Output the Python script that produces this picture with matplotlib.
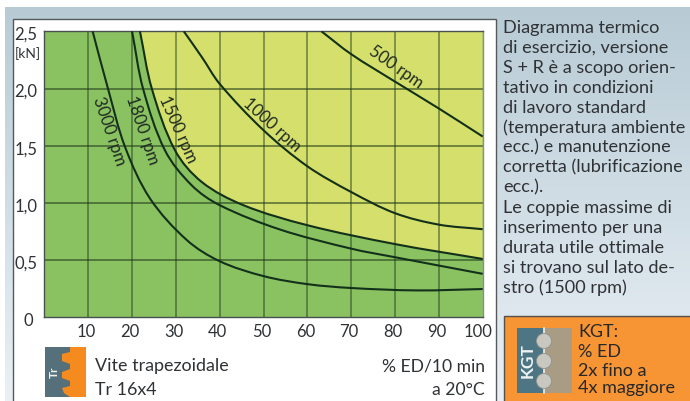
import numpy as np
import matplotlib
matplotlib.use('Agg')
import matplotlib.pyplot as plt
from matplotlib.patches import Rectangle, Polygon, Circle, PathPatch
from matplotlib.path import Path
from matplotlib.transforms import ScaledTranslation

W, H = 690, 401
plt.rcParams['font.family'] = ['Lato', 'DejaVu Sans']

# values: % ED on x, kN on y
x_500 = [63.2, 70, 80, 90, 100]
y_500 = [2.5, 2.30, 2.06, 1.825, 1.58]
x_1000 = [31.8, 36, 40, 50, 60, 70, 80, 90, 100]
y_1000 = [2.5, 2.27, 2.04, 1.635, 1.32, 1.095, 0.91, 0.81, 0.77]
x_1500 = [21.8, 24.5, 29.8, 35.9, 45.4, 60, 80, 100]
y_1500 = [2.5, 2.0, 1.46, 1.183, 0.98, 0.805, 0.64, 0.51]
x_1800 = [20, 22.5, 27.5, 33.6, 40, 53.7, 70, 80, 100]
y_1800 = [2.5, 2.0, 1.46, 1.154, 0.98, 0.768, 0.60, 0.525, 0.38]
x_3000 = [11, 14.5, 18.4, 24.1, 32.5, 40, 50, 60, 70, 85, 100]
y_3000 = [2.5, 2.0, 1.489, 1.038, 0.675, 0.49, 0.36, 0.29, 0.256, 0.235, 0.247]

curve_labels = ['500 rpm', '1000 rpm', '1500 rpm', '1800 rpm', '3000 rpm']
label_x = [80.3, 51.9, 30.5, 22.3, 14.7]
label_y = [2.187, 1.678, 1.643, 1.635, 1.625]
label_rot = [-35, -42, -66, -71, -71]

x_ticks = [10, 20, 30, 40, 50, 60, 70, 80, 90, 100]
y_ticks = [0, 0.5, 1.0, 1.5, 2.0, 2.5]
y_tick_labels = ['0', '0,5', '1,0', '1,5', '2,0', '2,5']

side_text = ['Diagramma termico', 'di esercizio, versione', 'S + R è a scopo orien-',
             'tativo in condizioni', 'di lavoro standard', '(temperatura ambiente',
             'ecc.) e manutenzione', 'corretta (lubrificazione', 'ecc.).',
             'Le coppie massime di', 'inserimento per una', 'durata utile ottimale',
             'si trovano sul lato de-', 'stro (1500 rpm)']
kgt_text = ['KGT:', '% ED', '2x fino a', '4x maggiore']

GREEN = '#8ac262'
YELLOW = '#d5df6b'
ORANGE = '#f79433'
TEXT = '#2f3235'
SX, SY = 4.383, 114.4  # px per data unit, keeps the curve tangents round on screen


def smooth_path(xs, ys):
    # bezier through the read points, handle length follows the segment length
    p = np.column_stack([np.array(xs) * SX, np.array(ys) * SY])
    tang = np.zeros_like(p)
    tang[1:-1] = p[2:] - p[:-2]
    tang[0] = p[1] - p[0]
    tang[-1] = p[-1] - p[-2]
    tang /= np.linalg.norm(tang, axis=1)[:, None]
    verts = [p[0]]
    codes = [Path.MOVETO]
    for i in range(len(p) - 1):
        d = np.linalg.norm(p[i + 1] - p[i]) / 3
        verts += [p[i] + tang[i] * d, p[i + 1] - tang[i + 1] * d, p[i + 1]]
        codes += [Path.CURVE4] * 3
    return Path(np.array(verts) / [SX, SY], codes)


fig = plt.figure(figsize=(W / 100, H / 100), dpi=100)

# page layer in pixel coordinates
bg = fig.add_axes([0, 0, 1, 1])
bg.axis('off')

grad = np.linspace(0, 1, 256)[:, None, None]
top = np.array([0xb8, 0xcb, 0xd5]) / 255
bottom = np.array([0xea, 0xf0, 0xf6]) / 255
bg.imshow(top + (bottom - top) * grad, extent=[5, W, H, 7], aspect='auto', zorder=0)
bg.set_xlim(0, W)
bg.set_ylim(H, 0)
bg.add_patch(Rectangle((12.5, 19), 483.2, 390, fc='white', ec='#55595c', lw=1, zorder=1))

for i, line in enumerate(side_text):
    bg.text(503, 32.7 + i * 20.02, line, fontsize=13.1, color=TEXT, va='baseline', ha='left')

# KGT box
bg.add_patch(Rectangle((504, 316), 190, 90, fc=ORANGE, ec='#55504a', lw=1, zorder=1))
bg.add_patch(Rectangle((517, 328), 27, 65, fc='#4d7583', ec='none', zorder=2))
bg.add_patch(Rectangle((544, 328), 28, 65, fc='#a99c85', ec='none', zorder=2))
bg.plot([544, 544], [328, 393], color='#f0f0ea', lw=1.2, zorder=3)
for yc in [341, 361, 381]:
    bg.add_patch(Circle((544, yc), 7.5, fc='#c9c8c0', ec='#8f9490', lw=0.6, zorder=4))
bg.text(528, 361, 'KGT', color='#eef2f2', fontsize=12.5, fontweight='bold', rotation=90,
        ha='center', va='center', zorder=5)
for line, base in zip(kgt_text, [337, 357, 376, 393.5]):
    bg.text(578, base, line, fontsize=13, color='#26282a', va='baseline', ha='left')

# Tr icon
bg.add_patch(Rectangle((45, 347), 41, 50, fc='#f58a1f', ec='none', zorder=2))
thread = Polygon([(45, 347), (70, 347), (70, 352), (62, 354), (62, 361), (70, 364), (70, 369),
                  (62, 372), (62, 378), (70, 381), (70, 386), (62, 388), (64, 393), (70, 397),
                  (45, 397)], fc='#55707a', ec='none', zorder=3)
bg.add_patch(thread)
bg.text(54, 372, 'Tr', color='#eef2f2', fontsize=8.5, fontweight='bold', rotation=90,
        ha='center', va='center', zorder=4)

bg.text(95, 371.5, 'Vite trapezoidale', fontsize=12.9, color=TEXT, va='baseline')
bg.text(95, 395, 'Tr 16x4', fontsize=12.9, color=TEXT, va='baseline')
bg.text(485, 371.5, '% ED/10 min', fontsize=12.6, color=TEXT, va='baseline', ha='right')
bg.text(485, 395, 'a 20°C', fontsize=12.6, color=TEXT, va='baseline', ha='right')
bg.text(41, 58, '[kN]', fontsize=10, color=TEXT, va='baseline', ha='right')

# chart
ax = fig.add_axes([44.4 / W, 1 - 317.3 / H, 438.3 / W, 286 / H])
ax.set_xlim(0, 100)
ax.set_ylim(0, 2.5)
ax.set_facecolor(GREEN)

# yellow zone sits above the 1500 rpm line
edge = smooth_path(x_1500, y_1500)
ev = np.vstack([edge.vertices, [[x_1500[-1], 2.5], [x_1500[0], 2.5], [x_1500[0], 2.5]]])
ec = list(edge.codes) + [Path.LINETO, Path.LINETO, Path.CLOSEPOLY]
ax.add_patch(PathPatch(Path(ev, ec), fc=YELLOW, ec='none', zorder=1))

for x, y in [(x_500, y_500), (x_1000, y_1000), (x_1500, y_1500), (x_1800, y_1800), (x_3000, y_3000)]:
    ax.add_patch(PathPatch(smooth_path(x, y), fc='none', ec='#13301a', lw=1.5, zorder=3,
                           capstyle='butt'))

for xg in x_ticks[:-1]:
    ax.axvline(xg, color='#1f3a1a', alpha=0.5, lw=1.3, zorder=2)
for yg in y_ticks[1:-1]:
    ax.axhline(yg, color='#1f3a1a', alpha=0.6, lw=1.3, zorder=2)

for lab, lx, ly, rot in zip(curve_labels, label_x, label_y, label_rot):
    ax.text(lx, ly, lab, rotation=rot, rotation_mode='anchor', ha='center', va='center',
            fontsize=12, color='#1f2a22', zorder=4)

ax.set_xticks(x_ticks)
ax.set_xticklabels([str(v) for v in x_ticks])
ax.set_yticks(y_ticks)
ax.set_yticklabels(y_tick_labels)
ax.tick_params(axis='both', length=0, labelsize=12, labelcolor=TEXT)
ax.tick_params(axis='x', pad=5)
ax.tick_params(axis='y', pad=5)
for t, val in zip(ax.get_xticklabels(), x_ticks):
    dx = -5 if val == 100 else -2
    t.set_transform(t.get_transform() + ScaledTranslation(dx / 100, 0, fig.dpi_scale_trans))
for t, val in zip(ax.get_yticklabels(), y_ticks):
    dx = -4 if val == 0 else 0
    t.set_transform(t.get_transform() + ScaledTranslation(dx / 100, -2 / 100, fig.dpi_scale_trans))

for side, col in [('left', '#4a4f4f'), ('bottom', '#4a4f4f'), ('top', '#4a4f4f'), ('right', '#8a8d8d')]:
    ax.spines[side].set_color(col)
    ax.spines[side].set_linewidth(1.0)

fig.savefig('out.png', dpi=100)
